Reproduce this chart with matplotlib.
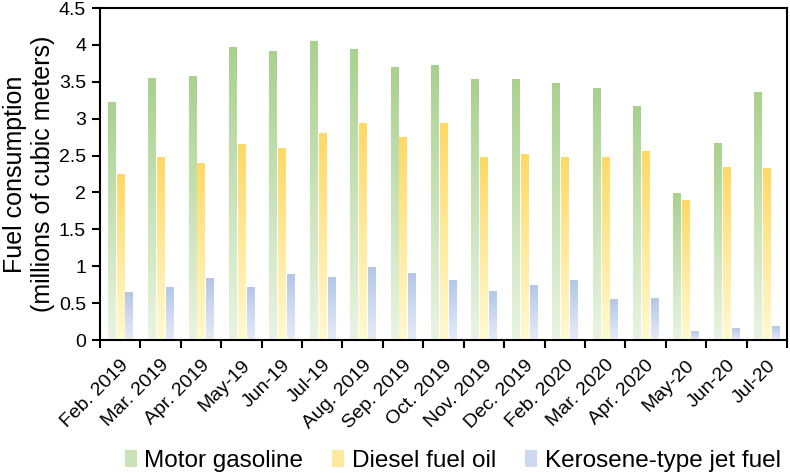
import numpy as np
import matplotlib.pyplot as plt
from matplotlib.colors import LinearSegmentedColormap
from matplotlib.patches import Patch

months = ["Feb. 2019", "Mar. 2019", "Apr. 2019", "May-19", "Jun-19", "Jul-19",
          "Aug. 2019", "Sep. 2019", "Oct. 2019", "Nov. 2019", "Dec. 2019",
          "Feb. 2020", "Mar. 2020", "Apr. 2020", "May-20", "Jun-20", "Jul-20"]
gasoline = [3.22, 3.55, 3.57, 3.97, 3.91, 4.04, 3.94, 3.70, 3.72, 3.53, 3.53,
            3.47, 3.41, 3.16, 1.99, 2.67, 3.35]
diesel = [2.25, 2.47, 2.39, 2.65, 2.59, 2.80, 2.93, 2.75, 2.94, 2.48, 2.51,
          2.47, 2.47, 2.56, 1.89, 2.34, 2.33]
jet = [0.65, 0.71, 0.83, 0.71, 0.89, 0.85, 0.98, 0.90, 0.80, 0.66, 0.74,
       0.80, 0.55, 0.56, 0.12, 0.15, 0.18]

series = [
    ("Motor gasoline", gasoline, "#a9d18e", "#e9f4e2"),
    ("Diesel fuel oil", diesel, "#ffd966", "#fffad2"),
    ("Kerosene-type jet fuel", jet, "#b4c7e7", "#e6ecf7"),
]

plt.rcParams['font.family'] = ['Liberation Sans', 'DejaVu Sans']

fig = plt.figure(figsize=(7.9, 4.73), dpi=100)
ax = fig.add_axes([100/790, 1 - 340/473, 687/790, 332/473])

x = np.arange(len(months))
width = 0.18
offsets = [-0.22, 0.0, 0.22]
grad = np.linspace(1, 0, 256).reshape(-1, 1)

handles = []
for (name, vals, top, bottom), off in zip(series, offsets):
    cmap = LinearSegmentedColormap.from_list(name, [bottom, top])
    bars = ax.bar(x + off, vals, width, color="none", edgecolor="none")
    for b in bars:
        x0, w, h = b.get_x(), b.get_width(), b.get_height()
        ax.imshow(grad, cmap=cmap, vmin=0, vmax=1, aspect="auto",
                  extent=(x0, x0 + w, 0, h), zorder=2, interpolation="bilinear")
    handles.append(Patch(facecolor=cmap(0.5), edgecolor="none", label=name))

ax.set_xlim(-0.5, len(months) - 0.5)
ax.set_ylim(0, 4.5)
ax.set_yticks(np.arange(0, 4.51, 0.5))
ax.set_yticklabels(["0", "0.5", "1", "1.5", "2", "2.5", "3", "3.5", "4", "4.5"], fontsize=14)
ax.set_xticks(x)
ax.set_xticklabels(months, rotation=45, ha="right", rotation_mode="anchor", fontsize=14)
ax.set_xticks(np.arange(-0.5, len(months), 1), minor=True)
ax.tick_params(axis="x", which="major", length=0, pad=12)
ax.tick_params(axis="x", which="minor", length=6, width=1.5, direction="out")
ax.tick_params(axis="y", length=6, width=1.5, direction="out", pad=4)
for s in ax.spines.values():
    s.set_linewidth(1.5)

ax.set_ylabel("Fuel consumption\n(millions of cubic meters)", fontsize=18, labelpad=3)

fig.legend(handles=handles, loc="lower center", ncol=3, frameon=False,
           fontsize=17.5, bbox_to_anchor=(0.573, -0.045), handlelength=0.5,
           handleheight=0.7, columnspacing=1.2, handletextpad=0.3)

fig.savefig("out.png", dpi=100)
